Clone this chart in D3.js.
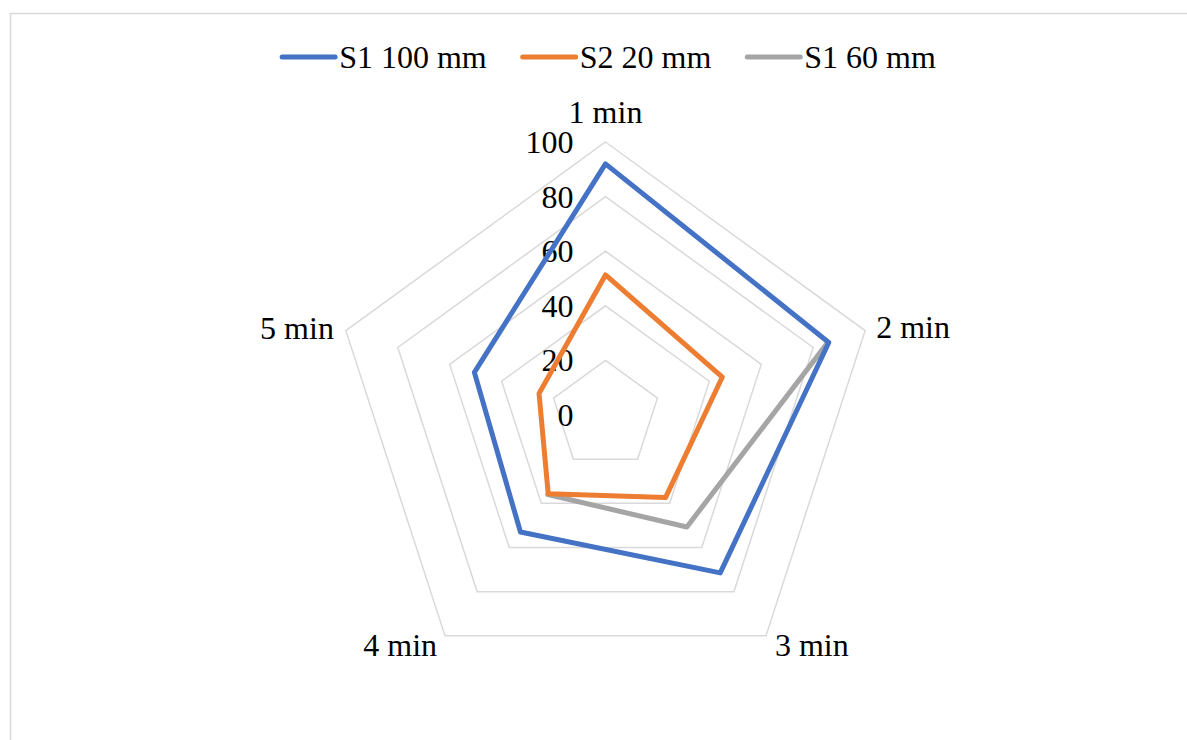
<!DOCTYPE html>
<html>
<head>
<meta charset="utf-8">
<script src="https://cdn.jsdelivr.net/npm/d3@7"></script>
<style>
  html, body { margin: 0; padding: 0; background: #fff; overflow: hidden; }
  text { font-family: "Liberation Serif", "Times New Roman", serif; fill: #000; }
</style>
</head>
<body>
<svg id="chart" width="1187" height="740"></svg>
<script>
const categories = ["1 min", "2 min", "3 min", "4 min", "5 min"];
const seriesNames = ["S1 100 mm", "S2 20 mm", "S1 60 mm"];
const s1_100 = [92, 86, 71.5, 53, 50.5];
const s2_20 = [51.3, 45, 37.4, 35.7, 25.6];
const s1_60 = [null, 85.5, 50.7, 36, null];
const tickValues = [0, 20, 40, 60, 80, 100];
const colors = ["#4472C4", "#ED7D31", "#A5A5A5"];

const svg = d3.select("#chart");
const cx = 605.5, cy = 415, R = 273;
const fontSize = 32;

// chart frame
svg.append("rect")
  .attr("x", 10.5).attr("y", 13.5)
  .attr("width", 1300).attr("height", 900)
  .attr("fill", "#fff").attr("stroke", "#d9d9d9").attr("stroke-width", 1.5);

const r = d3.scaleLinear().domain([0, 100]).range([0, R]);
const angle = d3.scalePoint().domain(categories).range([0, 2 * Math.PI * (categories.length - 1) / categories.length]);

const g = svg.append("g").attr("transform", `translate(${cx},${cy})`);

// grid pentagons
const gridLine = d3.lineRadial().angle(d => angle(d.c)).radius(d => r(d.v)).curve(d3.curveLinearClosed);
tickValues.filter(v => v > 0).forEach(v => {
  g.append("path")
    .attr("d", gridLine(categories.map(c => ({c, v}))))
    .attr("fill", "none").attr("stroke", "#d9d9d9").attr("stroke-width", 1.5);
});

// tick labels
g.selectAll("text.tick").data(tickValues).enter().append("text")
  .attr("class", "tick")
  .attr("x", -32)
  .attr("y", d => -r(d))
  .attr("text-anchor", "end")
  .attr("dominant-baseline", "central")
  .attr("font-size", fontSize)
  .text(d => d);

// category labels
const labelOffsets = {
  "1 min": {dx: 0, dy: -30, anchor: "middle"},
  "2 min": {dx: 11, dy: -4, anchor: "start"},
  "3 min": {dx: 9, dy: 9, anchor: "start"},
  "4 min": {dx: -8, dy: 9, anchor: "end"},
  "5 min": {dx: -12, dy: -3, anchor: "end"}
};
categories.forEach(c => {
  const a = angle(c);
  const x = Math.sin(a) * r(100), y = -Math.cos(a) * r(100);
  const o = labelOffsets[c];
  g.append("text")
    .attr("x", x + o.dx).attr("y", y + o.dy)
    .attr("text-anchor", o.anchor)
    .attr("dominant-baseline", "central")
    .attr("font-size", fontSize)
    .text(c);
});

// series
const seriesData = [s1_100, s2_20, s1_60];
const drawOrder = [2, 1, 0];
drawOrder.forEach(i => {
  const vals = seriesData[i];
  const pts = categories.map((c, k) => ({c, v: vals[k]}));
  const allDefined = pts.every(p => p.v !== null);
  const line = d3.lineRadial()
    .defined(d => d.v !== null)
    .angle(d => angle(d.c)).radius(d => r(d.v))
    .curve(allDefined ? d3.curveLinearClosed : d3.curveLinear);
  g.append("path")
    .attr("d", line(pts))
    .attr("fill", "none")
    .attr("stroke", colors[i])
    .attr("stroke-width", 5)
    .attr("stroke-linejoin", "round")
    .attr("stroke-linecap", "round");
});

// legend
const legend = svg.append("g");
const items = [];
seriesNames.forEach((n, i) => {
  const it = legend.append("g");
  it.append("line").attr("x1", 0).attr("x2", 53).attr("y1", 0).attr("y2", 0)
    .attr("stroke", colors[i]).attr("stroke-width", 5).attr("stroke-linecap", "round");
  const t = it.append("text").attr("x", 57).attr("y", 0)
    .attr("dominant-baseline", "central").attr("font-size", fontSize).text(n);
  items.push({it, w: 57 + t.node().getComputedTextLength()});
});
const gap = 36;
const total = d3.sum(items, d => d.w) + gap * (items.length - 1);
let lx = 609 - total / 2;
items.forEach(d => {
  d.it.attr("transform", `translate(${lx},57)`);
  lx += d.w + gap;
});
</script>
</body>
</html>
